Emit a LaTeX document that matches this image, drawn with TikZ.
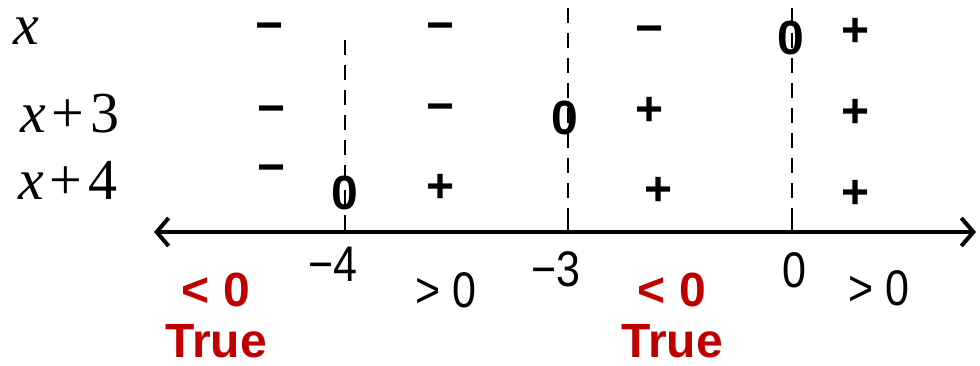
\documentclass[tikz,border=0pt]{standalone}
\usepackage{fontspec}
\setmainfont{Liberation Sans}
\newfontfamily\serifmath{Liberation Serif}
\newfontfamily\narrowsans[FakeStretch=0.86]{Liberation Sans}
\usetikzlibrary{arrows.meta}
\definecolor{darkred}{RGB}{192,0,0}
\begin{document}
\begin{tikzpicture}[x=1pt,y=-1pt,
  sgn/.style={font=\fontsize{48}{48}\selectfont\bfseries, inner sep=0pt},
  zero/.style={font=\fontsize{48}{48}\selectfont\bfseries, inner sep=0pt},
  num/.style={font=\narrowsans\fontsize{50}{50}\selectfont, inner sep=0pt},
  redlab/.style={font=\fontsize{48}{48}\selectfont\bfseries, text=darkred, inner sep=0pt},
  fun/.style={font=\serifmath\fontsize{58}{58}\selectfont, inner sep=0pt, anchor=base west},
  guide/.style={line width=2.2pt, dash pattern=on 15pt off 10pt},
  tick/.style={line width=2.2pt},
  axis/.style={line width=4pt, {Straight Barb[length=12pt,width=28pt]}-{Straight Barb[length=12pt,width=28pt]}}
]
\useasboundingbox (0,0) rectangle (980,366);

% coordinates
\coordinate (L) at (154,232);
\coordinate (R) at (976,232);
\coordinate (a1) at (345,232); \coordinate (a1top) at (345,40); \coordinate (a1tk) at (345,215);
\coordinate (a2) at (568,232); \coordinate (a2top) at (568,8);  \coordinate (a2tk) at (568,215);
\coordinate (a3) at (792,232); \coordinate (a3top) at (792,8);  \coordinate (a3tk) at (792,215);

% guides and ticks
\draw[guide] (a1top) -- (a1);
\draw[guide] (a2top) -- (a2);
\draw[guide] (a3top) -- (a3);
\draw[tick] (a1tk) -- (a1);
\draw[tick] (a2tk) -- (a2);
\draw[tick] (a3tk) -- (a3);

% axis
\draw[axis] (L) -- (R);

% function labels
\node[fun] (fx) at (13,45) {\textit{x}};
\node[fun] (f3) at (20,133) {\textit{x}\kern0.1em+\kern0.1em3};
\node[fun] (f4) at (18,200) {\textit{x}\kern0.1em+\kern0.1em4};

% row 1 : x
\node[sgn] (s11) at (270,32) {−};
\node[sgn] (s12) at (441,32) {−};
\node[sgn] (s13) at (650,35) {−};
\node[zero] (z13) at (791,38) {0};
\node[sgn] (s14) at (856,32) {+};

% row 2 : x+3
\node[sgn] (s21) at (272,115) {−};
\node[sgn] (s22) at (441,113) {−};
\node[zero] (z22) at (565,118) {0};
\node[sgn] (s23) at (650,111) {+};
\node[sgn] (s24) at (856,113) {+};

% row 3 : x+4
\node[sgn] (s31) at (272,174) {−};
\node[zero] (z31) at (345,193) {0};
\node[sgn] (s32) at (441,188) {+};
\node[sgn] (s33) at (659,191) {+};
\node[sgn] (s34) at (856,194) {+};

% axis numbers
\node[num] (n1) at (333,264) {−4};
\node[num] (n2) at (556,269) {−3};
\node[num] (n3) at (794,270) {0};
\node[num] (g1) at (446,290) {> 0};
\node[num] (g2) at (879,288) {> 0};

% red labels
\node[redlab] (r1) at (216,290) {< 0};
\node[redlab] (t1) at (216,341) {True};
\node[redlab] (r2) at (672,290) {< 0};
\node[redlab] (t2) at (672,341) {True};
\end{tikzpicture}
\end{document}
